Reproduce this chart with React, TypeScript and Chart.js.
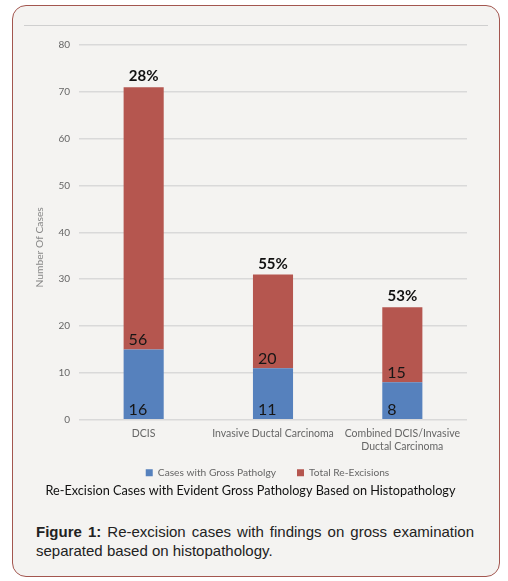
import { useEffect, useRef } from 'react'
import Chart from 'chart.js/auto'
import type { ChartConfiguration, Plugin } from 'chart.js'

// categories and series
const categories = [['DCIS'], ['Invasive Ductal Carcinoma'], ['Combined DCIS/Invasive', 'Ductal Carcinoma']]
const grossCases = [15, 11, 8]
const reExcisions = [56, 20, 16]
// labels as printed on the bars
const grossLabels = ['16', '11', '8']
const reExcisionLabels = ['56', '20', '15']
const percentLabels = ['28%', '55%', '53%']
const yTitle = 'Number Of Cases'

const FONT = 'Lato, "Open Sans", sans-serif'

const barLabels: Plugin<'bar'> = {
  id: 'barLabels',
  afterLayout(chart: any) {
    // legend and title sit a little right of the canvas centre in the original
    if (chart.legend) {
      chart.legend.left += 24
      chart.legend.right += 24
      chart.legend.top -= 7
    }
    if (chart.titleBlock) {
      chart.titleBlock.left += 7
      chart.titleBlock.right += 7
    }
  },
  afterDatasetsDraw(chart) {
    const ctx = chart.ctx
    ctx.save()
    ctx.fillStyle = '#161616'
    ctx.textBaseline = 'alphabetic'
    ctx.textAlign = 'left'
    ctx.font = `16px ${FONT}`
    const sets = [grossLabels, reExcisionLabels]
    sets.forEach((labels, di) => {
      const meta = chart.getDatasetMeta(di)
      meta.data.forEach((el: any, i) => {
        ctx.fillText(labels[i], el.x - el.width / 2 + 5, el.base - 4)
      })
    })
    // percentages over the stacks
    const top = chart.getDatasetMeta(1)
    ctx.textAlign = 'center'
    ctx.font = `bold 15px ${FONT}`
    ctx.fillStyle = '#111'
    top.data.forEach((el: any, i) => {
      ctx.fillText(percentLabels[i], el.x, el.y - 6)
    })
    // y axis title, sits a bit below the middle of the axis
    const area = chart.chartArea
    ctx.translate(chart.scales.y.left + 20, (area.top + area.bottom) / 2 + 15)
    ctx.rotate(-Math.PI / 2)
    ctx.font = `10.3px ${FONT}`
    ctx.fillStyle = '#888'
    ctx.textBaseline = 'middle'
    ctx.fillText(yTitle, 0, 0)
    ctx.restore()
  },
}

export default function App() {
  const canvasRef = useRef<HTMLCanvasElement>(null)
  const chartRef = useRef<Chart | null>(null)

  useEffect(() => {
    if (!canvasRef.current) return
    const ctx = canvasRef.current.getContext('2d')
    if (!ctx) return
    if (chartRef.current) chartRef.current.destroy()

    const config: ChartConfiguration<'bar'> = {
      type: 'bar',
      data: {
        labels: categories as any,
        datasets: [
          {
            label: 'Cases with Gross Patholgy',
            data: grossCases,
            backgroundColor: '#5681bd',
            barPercentage: 0.62,
            categoryPercentage: 0.5,
          },
          {
            label: 'Total Re-Excisions',
            data: reExcisions,
            backgroundColor: '#b5564f',
            barPercentage: 0.62,
            categoryPercentage: 0.5,
          },
        ],
      },
      options: {
        responsive: false,
        animation: false,
        layout: { padding: { top: 13, right: 23, left: 0, bottom: 4 } },
        plugins: {
          legend: {
            position: 'bottom',
            maxHeight: 29,
            labels: {
              boxWidth: 7,
              boxHeight: 7,
              padding: 21,
              color: '#666',
              font: { family: FONT, size: 10.2 },
            },
          },
          title: {
            display: true,
            position: 'bottom',
            text: 'Re-Excision Cases with Evident Gross Pathology Based on Histopathology',
            color: '#111',
            font: { family: FONT, size: 12.7, weight: 'normal' },
            padding: { top: 1, bottom: 2 },
          },
          tooltip: { enabled: false },
        },
        scales: {
          x: {
            stacked: true,
            grid: { display: false, drawTicks: false },
            border: { display: false },
            afterFit: (scale) => {
              scale.height = 34
            },
            ticks: { color: '#666', font: { family: FONT, size: 10.5 }, padding: 8 },
          },
          y: {
            stacked: true,
            min: 0,
            max: 80,
            afterFit: (scale) => {
              scale.width = 59
            },
            ticks: { stepSize: 10, color: '#666', padding: 9, font: { family: FONT, size: 10 } },
            grid: { color: '#d9d9d9', lineWidth: 1.5, drawTicks: false },
            border: { display: false },
          },
        },
      },
      plugins: [barLabels],
    }

    chartRef.current = new Chart(ctx, config)
    return () => {
      if (chartRef.current) chartRef.current.destroy()
    }
  }, [])

  return (
    <div style={{ position: 'fixed', left: 0, top: 0, width: 508, height: 581, background: '#fff' }}>
      <div
        style={{
          position: 'absolute',
          left: 12,
          top: 5,
          width: 486,
          height: 570,
          border: '1.5px solid #a3564f',
          borderRadius: 14,
          background: '#f4f3f1',
        }}
      />
      <div style={{ position: 'absolute', left: 24, top: 25, width: 464, height: 1, background: '#cfcfcf' }} />
      <canvas
        ref={canvasRef}
        width={470}
        height={475}
        style={{ position: 'absolute', left: 20, top: 30, width: 470, height: 475 }}
      />
      <div
        style={{
          position: 'absolute',
          left: 36,
          top: 522,
          width: 438,
          fontFamily: '"Liberation Sans", Arial, sans-serif',
          fontSize: 15,
          lineHeight: '19px',
          color: '#222',
          textAlign: 'justify',
        }}
      >
        <b>Figure 1:</b> Re-excision cases with findings on gross examination separated based on histopathology.
      </div>
    </div>
  )
}
